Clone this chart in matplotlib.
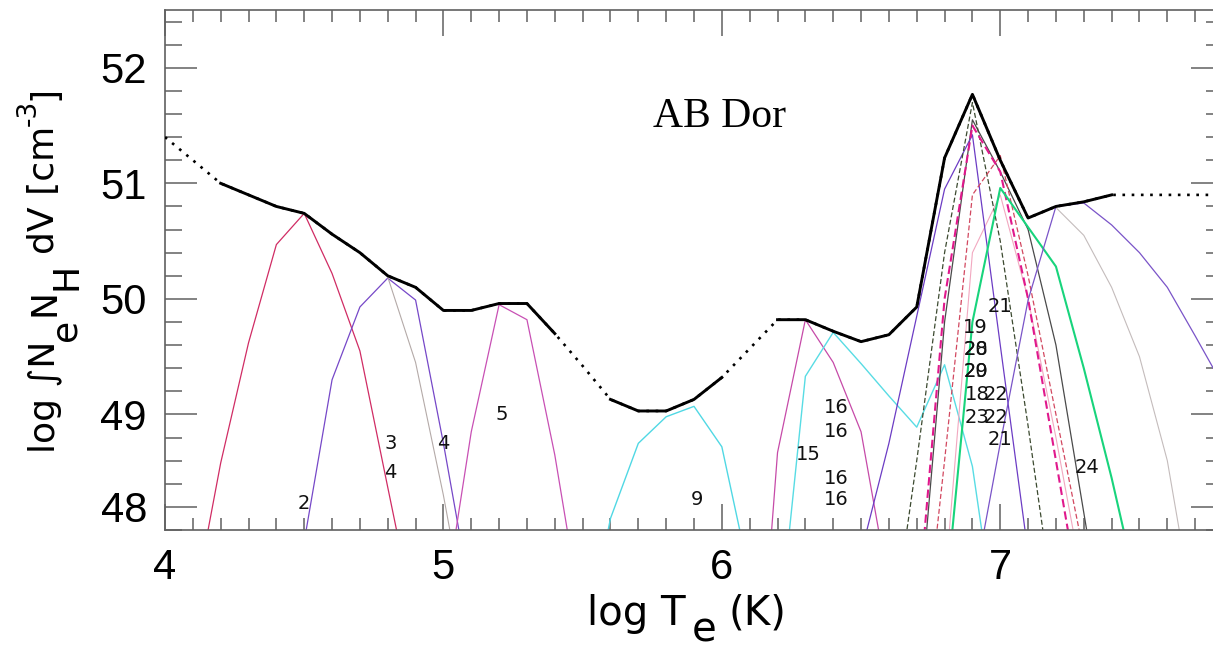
import matplotlib
matplotlib.use("Agg")
import matplotlib.pyplot as plt
from matplotlib.ticker import FixedLocator, FixedFormatter, MultipleLocator

W, H = 1213, 647

# total emission measure distribution (black), log T grid
log_t = [4.0, 4.1, 4.2, 4.3, 4.4, 4.5, 4.6, 4.7, 4.8, 4.9,
         5.0, 5.1, 5.2, 5.3, 5.4, 5.5, 5.6, 5.7, 5.8, 5.9,
         6.0, 6.1, 6.2, 6.3, 6.4, 6.5, 6.6, 6.7, 6.8, 6.9,
         7.0, 7.1, 7.2, 7.3, 7.4, 7.5, 7.6, 7.7, 7.8]
dem = [51.40, 51.20, 51.00, 50.90, 50.80, 50.74, 50.56, 50.40, 50.20, 50.10,
       49.90, 49.90, 49.96, 49.96, 49.70, 49.42, 49.13, 49.03, 49.03, 49.13,
       49.32, 49.57, 49.82, 49.82, 49.72, 49.63, 49.69, 49.93, 51.22, 51.77,
       51.20, 50.70, 50.80, 50.84, 50.90, 50.90, 50.90, 50.90, 50.90]
# ranges constrained by the lines (solid); the rest is dotted
solid_ranges = [(4.2, 5.4), (5.6, 6.0), (6.2, 7.4)]

# line contribution functions
ion2_t = [4.1, 4.2, 4.3, 4.4, 4.5, 4.6, 4.7, 4.8, 4.9]
ion2_em = [47.3, 48.58, 49.62, 50.47, 50.74, 50.22, 49.55, 48.37, 47.2]
ion3_t = [4.5, 4.6, 4.7, 4.8, 4.9, 5.0, 5.1]
ion3_em = [47.9, 49.3, 49.93, 50.18, 49.99, 48.75, 47.4]
ion4_t = [4.8, 4.9, 5.0, 5.1]
ion4_em = [50.19, 49.45, 48.3, 47.0]
ion5_t = [5.0, 5.1, 5.2, 5.3, 5.4, 5.5]
ion5_em = [47.3, 48.85, 49.95, 49.82, 48.65, 47.2]
ion9_t = [5.5, 5.6, 5.7, 5.8, 5.9, 6.0, 6.1]
ion9_em = [46.9, 48.1, 48.75, 48.98, 49.07, 48.72, 47.6]
ion15_t = [6.1, 6.2, 6.3, 6.4, 6.5, 6.6]
ion15_em = [45.5, 48.67, 49.82, 49.45, 48.85, 47.5]
ion16_t = [6.2, 6.3, 6.4, 6.5, 6.6, 6.7, 6.8, 6.9, 7.0]
ion16_em = [47.0, 49.33, 49.71, 49.44, 49.16, 48.89, 49.43, 48.55, 46.9]
fe_a_t = [6.4, 6.5, 6.6, 6.7, 6.8, 6.9, 7.0, 7.1]
fe_a_em = [46.9, 47.8, 48.75, 49.85, 50.95, 51.42, 49.6, 47.8]
fe_b_t = [6.6, 6.7, 6.8, 6.9, 7.0, 7.1, 7.2]
fe_b_em = [46.9, 48.6, 50.4, 51.7, 50.5, 48.9, 47.2]
fe_c_t = [6.7, 6.8, 6.9, 7.0, 7.1, 7.2, 7.3]
fe_c_em = [47.2, 50.0, 51.5, 51.1, 50.0, 48.6, 47.2]
fe_d_t = [6.7, 6.8, 6.9, 7.0, 7.1, 7.2, 7.3]
fe_d_em = [46.4, 48.6, 50.9, 51.24, 50.2, 49.0, 47.8]
fe_e_t = [6.8, 6.9, 7.0, 7.1, 7.2, 7.3, 7.4, 7.5]
fe_e_em = [47.3, 49.8, 50.96, 50.62, 50.28, 49.4, 48.45, 47.4]
fe_f_t = [6.7, 6.8, 6.9, 7.0, 7.1, 7.2, 7.3, 7.4]
fe_f_em = [47.0, 49.8, 51.55, 51.1, 50.6, 49.6, 48.15, 46.7]
fe_g_t = [6.8, 6.9, 7.0, 7.1, 7.2, 7.3]
fe_g_em = [47.5, 50.4, 50.9, 50.0, 48.8, 47.5]
ion24_t = [6.9, 7.0, 7.1, 7.2, 7.3, 7.4, 7.5, 7.6, 7.7, 7.8]
ion24_em = [47.45, 48.75, 49.99, 50.8, 50.83, 50.64, 50.4, 50.1, 49.68, 49.25]
ion24b_t = [7.2, 7.3, 7.4, 7.5, 7.6, 7.7]
ion24b_em = [50.79, 50.55, 50.1, 49.5, 48.6, 47.2]

# line id labels (some overlap in the original figure)
lab_text = ["2", "3", "4", "4", "5", "9", "16", "16", "15", "16", "16",
            "21", "19", "20", "28", "20", "29", "18", "22", "23", "22", "21", "24"]
lab_t = [4.50, 4.81, 4.81, 5.00, 5.21, 5.91, 6.41, 6.41, 6.31, 6.41, 6.41,
         7.00, 6.91, 6.914, 6.914, 6.914, 6.914, 6.917, 6.986, 6.917, 6.986, 7.00, 7.31]
lab_em = [48.23, 48.75, 48.50, 48.75, 49.00, 48.26, 49.06, 48.85, 48.65, 48.45, 48.26,
          49.93, 49.75, 49.56, 49.56, 49.37, 49.37, 49.17, 49.17, 48.97, 48.97, 48.78, 48.54]

y_major = [48.2, 49, 50, 51, 52]
y_major_lab = ["48", "49", "50", "51", "52"]

dash = (0, (4, 2))
curves = [
    (ion2_t, ion2_em, "#d02c64", "-", 0.9),
    (ion3_t, ion3_em, "#7648c8", "-", 0.9),
    (ion4_t, ion4_em, "#b4aaa8", "-", 0.8),
    (ion5_t, ion5_em, "#c850b4", "-", 0.9),
    (ion9_t, ion9_em, "#50d8e4", "-", 1.0),
    (ion15_t, ion15_em, "#c64aa8", "-", 0.9),
    (ion16_t, ion16_em, "#58dce4", "-", 1.0),
    (fe_g_t, fe_g_em, "#f2a8c0", "-", 0.8),
    (fe_f_t, fe_f_em, "#4a4a4a", "-", 0.9),
    (fe_a_t, fe_a_em, "#6c3cc4", "-", 0.9),
    (fe_b_t, fe_b_em, "#3c4a30", dash, 0.9),
    (fe_d_t, fe_d_em, "#d24860", dash, 0.9),
    (fe_c_t, fe_c_em, "#e0188c", dash, 1.5),
    (fe_e_t, fe_e_em, "#18d47c", "-", 1.5),
    (ion24_t, ion24_em, "#7a54c8", "-", 0.9),
    (ion24b_t, ion24b_em, "#c4bcbc", "-", 0.8),
]

fig = plt.figure(figsize=(W / 100, H / 100), dpi=100)
ax = fig.add_axes([165 / W, (H - 530) / H, (1223 - 165) / W, (530 - 10) / H])

for t, em, c, ls, lw in curves:
    ax.plot(t, em, color=c, linestyle=ls, linewidth=lw)

# black DEM: dotted everywhere, solid where constrained
ax.plot(log_t, dem, color="black", linestyle=(0, (1, 2.5)), linewidth=1.9, zorder=5)
for lo, hi in solid_ranges:
    seg_t = [t for t in log_t if lo - 1e-6 <= t <= hi + 1e-6]
    seg_em = [d for t, d in zip(log_t, dem) if lo - 1e-6 <= t <= hi + 1e-6]
    ax.plot(seg_t, seg_em, color="black", linewidth=2.1, zorder=6)

for s, t, em in zip(lab_text, lab_t, lab_em):
    ax.text(t, em, s, fontsize=14, family="DejaVu Sans", color="#111111",
            ha="center", va="center", zorder=7)

fig.text(653 / W, (H - 127) / H, "AB Dor", fontsize=30, family="Liberation Serif",
         ha="left", va="baseline")

ax.set_xlim(4.0, 7.8)
ax.set_ylim(48.0, 52.5)
ax.xaxis.set_major_locator(FixedLocator([4, 5, 6, 7]))
ax.xaxis.set_minor_locator(MultipleLocator(0.1))
ax.yaxis.set_major_locator(FixedLocator(y_major))
ax.yaxis.set_major_formatter(FixedFormatter(y_major_lab))
ax.yaxis.set_minor_locator(MultipleLocator(0.2))

for lab in ax.get_xticklabels() + ax.get_yticklabels():
    lab.set_family("Liberation Sans")
ax.tick_params(which="both", direction="in", top=True, right=True,
               color="#606060", width=1.1, labelsize=30)
ax.tick_params(axis="x", which="major", length=19, pad=13)
ax.tick_params(axis="x", which="minor", length=8.5)
ax.tick_params(axis="y", which="major", length=23, pad=13)
ax.tick_params(axis="y", which="minor", length=12)
for sp in ax.spines.values():
    sp.set_color("#606060")
    sp.set_linewidth(1.2)


def put_pieces(pieces, x0, y0, vertical=False):
    # lay out label pieces one after another (pixel coords, origin bottom-left)
    r = fig.canvas.get_renderer()
    pos = 0.0
    for s, gap, shift, size in pieces:
        pos += gap
        if vertical:
            px, py = x0 + shift, y0 + pos
        else:
            px, py = x0 + pos, y0 - shift
        txt = fig.text(px / W, py / H, s, fontsize=size, family="DejaVu Sans",
                       rotation=90 if vertical else 0, rotation_mode="anchor",
                       ha="left", va="baseline")
        bb = txt.get_window_extent(r)
        pos += bb.height if vertical else bb.width


put_pieces([("log T", 0, 0, 29), ("e", 6, 16, 29), ("(K)", 12, 0, 29)],
           587, H - 625)
put_pieces([("log ∫N", 0, 0, 26), ("e", 0, 22, 26), ("N", 2, 0, 26),
            ("H", 0, 22, 26), ("dV [cm", 8, 0, 26), ("-3", 0, -18, 19),
            ("]", 0, 0, 26)], 54, H - 453, vertical=True)

fig.savefig("out.png", dpi=100)
